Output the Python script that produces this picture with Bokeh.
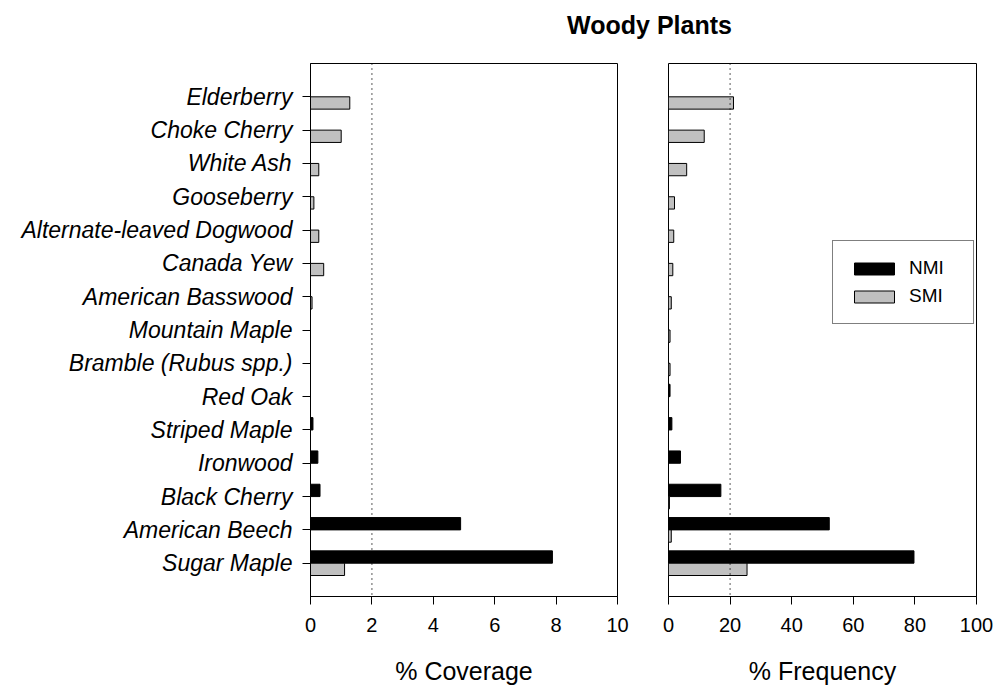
from bokeh.plotting import figure
from bokeh.models import (ColumnDataSource, FactorRange, Range1d, Span, Legend,
                          LegendItem, Div, FixedTicker)
from bokeh.transform import dodge
from bokeh.layouts import column, row
from bokeh.embed import file_html
from bokeh.resources import INLINE

# Species, listed from the bottom of the chart to the top
species = [
    "Sugar Maple", "American Beech", "Black Cherry", "Ironwood", "Striped Maple",
    "Red Oak", "Bramble (Rubus spp.)", "Mountain Maple", "American Basswood",
    "Canada Yew", "Alternate-leaved Dogwood", "Gooseberry", "White Ash",
    "Choke Cherry", "Elderberry",
]

# % Coverage
coverage_nmi = [7.88, 4.89, 0.31, 0.24, 0.08, 0, 0, 0, 0, 0, 0, 0, 0, 0, 0]
coverage_smi = [1.11, 0, 0, 0, 0, 0, 0, 0, 0.05, 0.43, 0.27, 0.11, 0.27, 1.0, 1.28]

# % Frequency
frequency_nmi = [79.7, 52.2, 17.0, 3.9, 1.1, 0.5, 0, 0, 0, 0, 0, 0, 0, 0, 0]
frequency_smi = [25.5, 0.9, 0.3, 0, 0, 0, 0.5, 0.5, 0.9, 1.4, 1.7, 1.95, 5.9, 11.6, 21.1]

coverage_ticks = [0, 2, 4, 6, 8, 10]
frequency_ticks = [0, 20, 40, 60, 80, 100]
coverage_ref = 2
frequency_ref = 20

FONT = "Liberation Sans"
NMI_COLOR = "black"
SMI_COLOR = "#c0c0c0"
BAR_H = 0.37
OFF = BAR_H / 2

source = ColumnDataSource(dict(
    species=species,
    cov_nmi=coverage_nmi, cov_smi=coverage_smi,
    freq_nmi=frequency_nmi, freq_smi=frequency_smi,
))

y_range = FactorRange(factors=species, range_padding=0.5,
                      range_padding_units="absolute")


def make_panel(width, border_left, border_right, x_end, ticks, ref, nmi_col, smi_col, xlabel):
    p = figure(width=width, height=647, y_range=y_range,
               x_range=Range1d(0, x_end), title=None,
               output_backend="svg", toolbar_location=None,
               min_border_left=border_left, min_border_right=border_right,
               min_border_top=23, min_border_bottom=90, margin=0)
    p.xgrid.visible = False
    p.ygrid.visible = False
    p.outline_line_color = "black"
    p.outline_line_width = 1
    p.background_fill_color = "white"
    p.border_fill_color = "white"

    r_nmi = p.hbar(y=dodge("species", OFF, range=y_range), left=0, right=nmi_col,
                   height=BAR_H, fill_color=NMI_COLOR, line_color="black",
                   line_width=1, source=source)
    r_smi = p.hbar(y=dodge("species", -OFF, range=y_range), left=0, right=smi_col,
                   height=BAR_H, fill_color=SMI_COLOR, line_color="black",
                   line_width=1, source=source)

    p.add_layout(Span(location=ref, dimension="height", line_color="black",
                      line_width=1.3, line_dash="1 4"))

    xa = p.xaxis[0]
    xa.ticker = FixedTicker(ticks=ticks)
    xa.minor_tick_line_color = None
    xa.major_tick_in = 0
    xa.major_tick_out = 8
    xa.major_tick_line_color = "black"
    xa.axis_line_color = "black"
    xa.major_label_standoff = 13
    xa.major_label_text_font = FONT
    xa.major_label_text_font_size = "20px"
    xa.major_label_text_color = "black"
    xa.axis_label = xlabel
    xa.axis_label_text_font = FONT
    xa.axis_label_text_font_size = "25px"
    xa.axis_label_text_font_style = "normal"
    xa.axis_label_text_color = "black"
    xa.axis_label_standoff = 22

    ya = p.yaxis[0]
    ya.major_tick_in = 0
    ya.major_tick_out = 8
    ya.major_tick_line_color = "black"
    ya.axis_line_color = "black"
    ya.major_label_standoff = 10
    ya.major_label_text_font = FONT
    ya.major_label_text_font_size = "23px"
    ya.major_label_text_font_style = "italic"
    ya.major_label_text_color = "black"
    return p, r_nmi, r_smi


p1, _, _ = make_panel(640, 310, 23, 10, coverage_ticks, coverage_ref,
                      "cov_nmi", "cov_smi", "% Coverage")
p2, f_nmi, f_smi = make_panel(355, 28, 19, 100, frequency_ticks, frequency_ref,
                              "freq_nmi", "freq_smi", "% Frequency")
p2.yaxis.visible = False

legend = Legend(
    items=[LegendItem(label="NMI", renderers=[f_nmi]),
           LegendItem(label="SMI", renderers=[f_smi])],
    location=(164, 272), margin=0, padding=16, spacing=6,
    glyph_width=50, glyph_height=15, label_height=17, label_width=48,
    label_standoff=10, label_text_font=FONT, label_text_font_size="19px",
    label_text_color="black", border_line_color="black", border_line_width=1,
    background_fill_color="white", background_fill_alpha=1,
)
p2.add_layout(legend)

title = Div(
    text=('<div style="width:691px;margin-left:304px;text-align:center;'
          "font-family:'Liberation Sans',Arial,sans-serif;font-size:25px;"
          'font-weight:bold;line-height:25px;padding-top:13px;color:black;">'
          'Woody Plants</div>'),
    width=995, height=40, margin=0,
)

layout = column(title, row(p1, p2, margin=0), margin=0)

with open("out.html", "w") as f:
    f.write(file_html(layout, INLINE))
